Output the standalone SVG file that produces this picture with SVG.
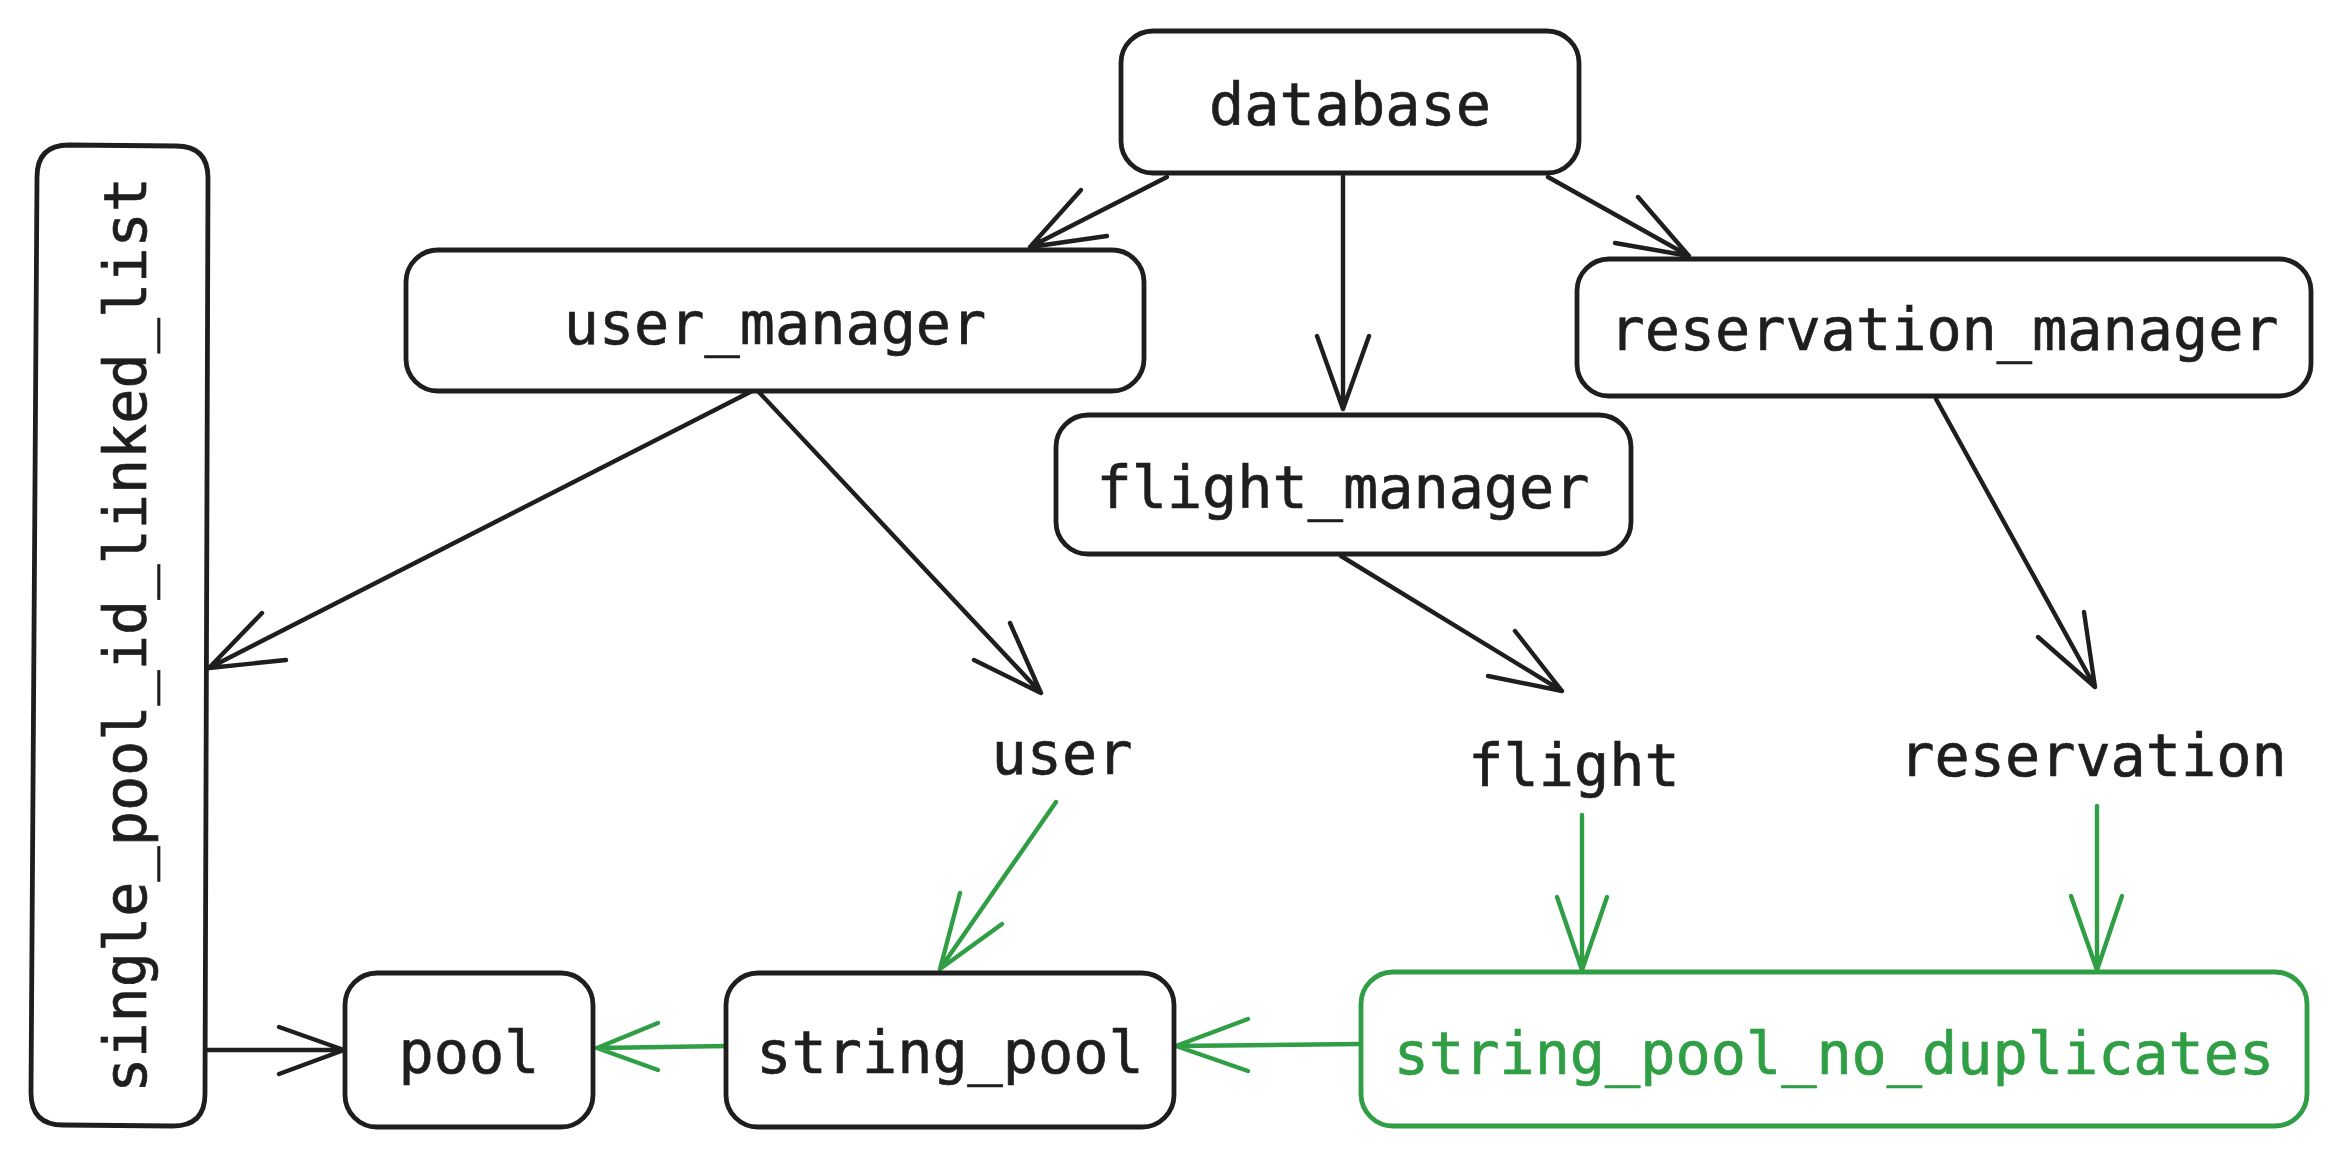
<svg xmlns="http://www.w3.org/2000/svg" width="2342" height="1157" viewBox="0 0 2342 1157">
<style>
.box{fill:#ffffff;stroke:#1e1e1e;stroke-width:4.8;}
.gbox{fill:#ffffff;stroke:#2f9e44;stroke-width:4.8;}
.t{font-family:"DejaVu Sans Mono","Liberation Mono",monospace;font-size:58.5px;fill:#1e1e1e;stroke:#1e1e1e;stroke-width:0.7;text-anchor:middle;}
.gt{fill:#2f9e44;stroke:#2f9e44;}
.e{fill:none;stroke:#1e1e1e;stroke-width:4.4;stroke-linecap:round;stroke-linejoin:round;}
.g{fill:none;stroke:#2f9e44;stroke-width:4.4;stroke-linecap:round;stroke-linejoin:round;}
</style>
<rect width="2342" height="1157" fill="#ffffff"/>
<g id="connectors">
  <path class="e" d="M1167,177 L1030,247 M1081,190 L1030,247 L1107,236"/>
  <path class="e" d="M1343,176 L1343,409 M1317,336 L1343,409 L1369,336"/>
  <path class="e" d="M1548,177 L1689,256 M1638,197 L1689,256 L1615,243"/>
  <path class="e" d="M756,389 L209,668 M262,613 L209,668 L286,660"/>
  <path class="e" d="M756,389 L1041,693 M1010,623 L1041,693 L974,660"/>
  <path class="e" d="M1341,556 L1562,691 M1515,631 L1562,691 L1488,676"/>
  <path class="e" d="M1936,399 L2095,687 M2084,612 L2095,687 L2038,637"/>
  <path class="e" d="M207,1050 L344,1050 M279,1027 L344,1050 L279,1074"/>
  <path class="g" d="M1582,815 L1582,970 M1557,897 L1582,970 L1607,897"/>
  <path class="g" d="M2097,806 L2097,970 M2071,896 L2097,970 L2122,896"/>
  <path class="g" d="M1360,1044 L1176,1046 M1248,1019 L1176,1046 L1248,1071"/>
  <path class="g" d="M727,1046 L597,1048 M658,1023 L597,1048 L658,1070"/>
  <path class="g" d="M1056,802 L940,969 M960,893 L940,969 L1002,924"/>
</g>
<g id="database">
  <rect class="box" x="1121" y="31" width="458" height="142" rx="32"/>
  <text class="t" x="1350" y="125">database</text>
</g>
<g id="user_manager">
  <rect class="box" x="406" y="250" width="738" height="141" rx="32"/>
  <text class="t" x="775" y="344">user_manager</text>
</g>
<g id="flight_manager">
  <rect class="box" x="1056" y="415" width="575" height="139" rx="32"/>
  <text class="t" x="1343" y="508">flight_manager</text>
</g>
<g id="reservation_manager">
  <rect class="box" x="1577" y="259" width="734" height="137" rx="32"/>
  <text class="t" x="1944" y="350">reservation_manager</text>
</g>
<g id="single_pool_id_linked_list">
  <path class="box" d="M69,145 L176,146 Q208,146 208,178 L205,1094 Q205,1126 173,1126 L63,1125 Q31,1125 31,1093 L37,177 Q37,145 69,145 Z"/>
  <text class="t" transform="translate(146,635) rotate(-90)" x="0" y="0">single_pool_id_linked_list</text>
</g>
<g id="user">
  <text class="t" x="1062" y="774">user</text>
</g>
<g id="flight">
  <text class="t" x="1574" y="786">flight</text>
</g>
<g id="reservation">
  <text class="t" x="2093" y="776">reservation</text>
</g>
<g id="pool">
  <rect class="box" x="345" y="973" width="248" height="154" rx="32"/>
  <text class="t" x="469" y="1073">pool</text>
</g>
<g id="string_pool">
  <rect class="box" x="726" y="973" width="448" height="154" rx="32"/>
  <text class="t" x="950" y="1073">string_pool</text>
</g>
<g id="string_pool_no_duplicates">
  <rect class="gbox" x="1361" y="972" width="946" height="154" rx="32"/>
  <text class="t gt" x="1834" y="1074">string_pool_no_duplicates</text>
</g>
</svg>
